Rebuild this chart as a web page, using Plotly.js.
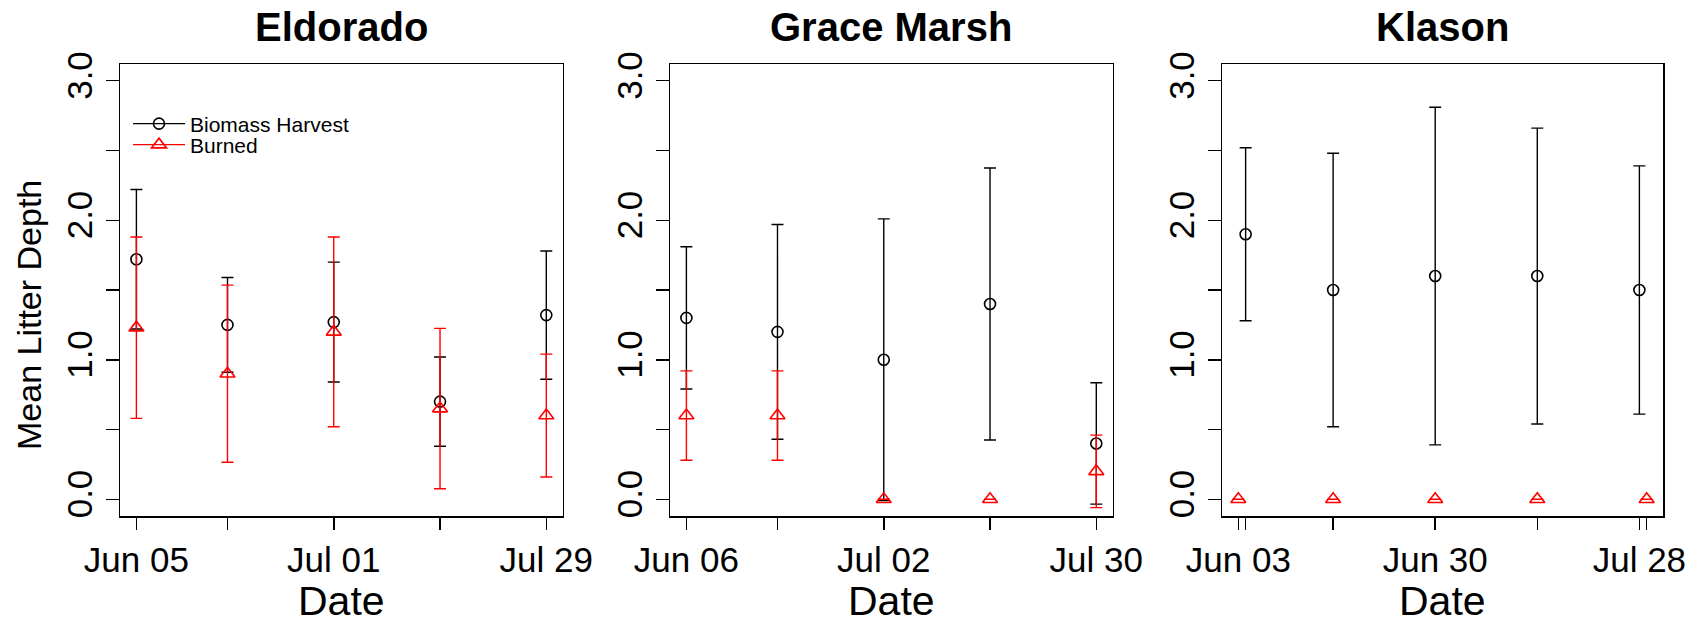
<!DOCTYPE html>
<html>
<head>
<meta charset="utf-8">
<script src="https://cdn.plot.ly/plotly-3.0.1.min.js"></script>
<style>
  html, body { margin: 0; padding: 0; background: #fff; }
  #chart { width: 1704px; height: 626px; }
</style>
</head>
<body>
<div id="chart"></div>
<script>
// sites, one panel each
const sites = ['Eldorado', 'Grace Marsh', 'Klason'];

// sampling dates
const eldDates   = ['2013-06-05', '2013-06-17', '2013-07-01', '2013-07-15', '2013-07-29'];
const graceDates = ['2013-06-06', '2013-06-18', '2013-07-02', '2013-07-16', '2013-07-30'];
const klaBioDates  = ['2013-06-04', '2013-06-16', '2013-06-30', '2013-07-14', '2013-07-28'];
const klaBurnDates = ['2013-06-03', '2013-06-16', '2013-06-30', '2013-07-14', '2013-07-29'];

// mean litter depth and error (+/-)
const eldBio     = [1.72, 1.25, 1.27, 0.70, 1.32];
const eldBioErr  = [0.50, 0.34, 0.43, 0.32, 0.46];
const eldBurn    = [1.23, 0.90, 1.20, 0.65, 0.60];
const eldBurnErr = [0.65, 0.635, 0.68, 0.575, 0.44];

const graceBio     = [1.30, 1.20, 1.00, 1.40, 0.40];
const graceBioErr  = [0.51, 0.77, 1.01, 0.975, 0.435];
const graceBurn    = [0.60, 0.60, 0.00, 0.00, 0.20];
const graceBurnErr = [0.32, 0.32, 0.00, 0.00, 0.26];

const klaBio     = [1.90, 1.50, 1.60, 1.60, 1.50];
const klaBioErr  = [0.62, 0.98, 1.21, 1.06, 0.89];
const klaBurn    = [0.00, 0.00, 0.00, 0.00, 0.00];
const klaBurnErr = [0.00, 0.00, 0.00, 0.00, 0.00];

// axis ticks (labels R kept after dropping overlaps)
const eldTicks     = ['2013-06-05', '2013-06-17', '2013-07-01', '2013-07-15', '2013-07-29'];
const eldTickText  = ['Jun 05', '', 'Jul 01', '', 'Jul 29'];
const graceTicks    = ['2013-06-06', '2013-06-18', '2013-07-02', '2013-07-16', '2013-07-30'];
const graceTickText = ['Jun 06', '', 'Jul 02', '', 'Jul 30'];
const klaTicks    = ['2013-06-03', '2013-06-04', '2013-06-16', '2013-06-30', '2013-07-14', '2013-07-28', '2013-07-29'];
const klaTickText = ['Jun 03', '', '', 'Jun 30', '', 'Jul 28', ''];
const yTicks     = [0, 0.5, 1, 1.5, 2, 2.5, 3];
const yTickText  = ['0.0', '', '1.0', '', '2.0', '', '3.0'];

const W = 1704, H = 626;
const FONT = 'Liberation Sans, Arial, Helvetica, sans-serif';
const RED = '#ff0000';

// plot regions in px
const panelsPx = [[120, 562.7], [670, 1112.7], [1222, 1663]];
const topPx = 64, botPx = 516;
const yDom = [(H - botPx) / H, (H - topPx) / H];

function fmt(ms) {
  const d = new Date(ms);
  const p = n => String(n).padStart(2, '0');
  return d.getUTCFullYear() + '-' + p(d.getUTCMonth() + 1) + '-' + p(d.getUTCDate()) +
    ' ' + p(d.getUTCHours()) + ':' + p(d.getUTCMinutes()) + ':' + p(d.getUTCSeconds());
}
function dateRange(ticks) {
  const ms = ticks.map(t => Date.parse(t + 'T00:00:00Z'));
  const lo = Math.min(...ms), hi = Math.max(...ms), pad = (hi - lo) * 0.04;
  return [fmt(lo - pad), fmt(hi + pad)];
}

function xAxis(i, ticks, text) {
  return {
    type: 'date', domain: [panelsPx[i][0] / W, panelsPx[i][1] / W],
    range: dateRange(ticks), anchor: i ? 'y' + (i + 1) : 'y',
    tickmode: 'array', tickvals: ticks, ticktext: text,
    ticks: 'outside', ticklen: 12, tickwidth: 1.5, tickcolor: '#000',
    showline: true, mirror: true, linecolor: '#000', linewidth: 1.5,
    showgrid: false, zeroline: false,
    tickfont: {family: FONT, size: 35, color: '#000'}
  };
}
function yAxis(i) {
  return {
    domain: yDom, range: [-0.12, 3.12], anchor: i ? 'x' + (i + 1) : 'x',
    tickmode: 'array', tickvals: yTicks, ticktext: yTickText, tickangle: -90,
    ticks: 'outside', ticklen: 13, tickwidth: 1.5, tickcolor: '#000',
    showline: true, mirror: true, linecolor: '#000', linewidth: 1.5,
    showgrid: false, zeroline: false,
    tickfont: {family: FONT, size: 35, color: '#000'}
  };
}

function pts(x, y, err, i, color, symbol, size) {
  return {
    type: 'scatter', mode: 'markers', x: x, y: y,
    xaxis: i ? 'x' + (i + 1) : 'x', yaxis: i ? 'y' + (i + 1) : 'y',
    error_y: {type: 'data', array: err, visible: true, color: color, thickness: 1.4, width: 6},
    marker: {symbol: symbol, size: size, color: color, line: {color: color, width: 1.6}},
    showlegend: false, hoverinfo: 'x+y'
  };
}

const data = [
  pts(eldDates, eldBio, eldBioErr, 0, '#000', 'circle-open', 11),
  pts(eldDates, eldBurn, eldBurnErr, 0, RED, 'triangle-up-open', 13),
  pts(graceDates, graceBio, graceBioErr, 1, '#000', 'circle-open', 11),
  pts(graceDates, graceBurn, graceBurnErr, 1, RED, 'triangle-up-open', 13),
  pts(klaBioDates, klaBio, klaBioErr, 2, '#000', 'circle-open', 11),
  pts(klaBurnDates, klaBurn, klaBurnErr, 2, RED, 'triangle-up-open', 13),
  // legend entries
  {type: 'scatter', mode: 'lines+markers', x: [null], y: [null], name: 'Biomass Harvest',
   line: {color: '#000', width: 1.4}, marker: {symbol: 'circle-open', size: 11, color: '#000', line: {color: '#000', width: 1.6}},
   showlegend: true, legend: 'legend'},
  {type: 'scatter', mode: 'lines+markers', x: [null], y: [null], name: 'Burned',
   line: {color: RED, width: 1.4}, marker: {symbol: 'triangle-up-open', size: 13, color: RED, line: {color: RED, width: 1.6}},
   showlegend: true, legend: 'legend2'}
];

const legendBase = {
  xanchor: 'left', yanchor: 'middle', bgcolor: 'rgba(0,0,0,0)', borderwidth: 0,
  itemwidth: 52, font: {family: FONT, size: 21, color: '#000'}
};

const annotations = [];
panelsPx.forEach((p, i) => {
  const cx = (p[0] + p[1]) / 2 / W;
  annotations.push({text: '<b>' + sites[i] + '</b>', xref: 'paper', yref: 'paper',
    x: cx, y: (H - 27) / H, xanchor: 'center', yanchor: 'middle', showarrow: false,
    font: {family: FONT, size: 40, color: '#000'}});
  annotations.push({text: 'Date', xref: 'paper', yref: 'paper',
    x: cx, y: (H - 601) / H, xanchor: 'center', yanchor: 'middle', showarrow: false,
    font: {family: FONT, size: 41, color: '#000'}});
});
annotations.push({text: 'Mean Litter Depth', xref: 'paper', yref: 'paper', textangle: -90,
  x: 29 / W, y: (H - 315) / H, xanchor: 'center', yanchor: 'middle', showarrow: false,
  font: {family: FONT, size: 34, color: '#000'}});

const layout = {
  width: W, height: H, margin: {l: 0, r: 0, t: 0, b: 0},
  paper_bgcolor: '#fff', plot_bgcolor: '#fff',
  font: {family: FONT, color: '#000'},
  xaxis: xAxis(0, eldTicks, eldTickText),
  xaxis2: xAxis(1, graceTicks, graceTickText),
  xaxis3: xAxis(2, klaTicks, klaTickText),
  yaxis: yAxis(0), yaxis2: yAxis(1), yaxis3: yAxis(2),
  legend: Object.assign({x: 128 / W, y: (H - 124) / H}, legendBase),
  legend2: Object.assign({x: 128 / W, y: (H - 145) / H}, legendBase),
  annotations: annotations,
  showlegend: true
};

Plotly.newPlot('chart', data, layout, {staticPlot: true, displayModeBar: false});
</script>
</body>
</html>
